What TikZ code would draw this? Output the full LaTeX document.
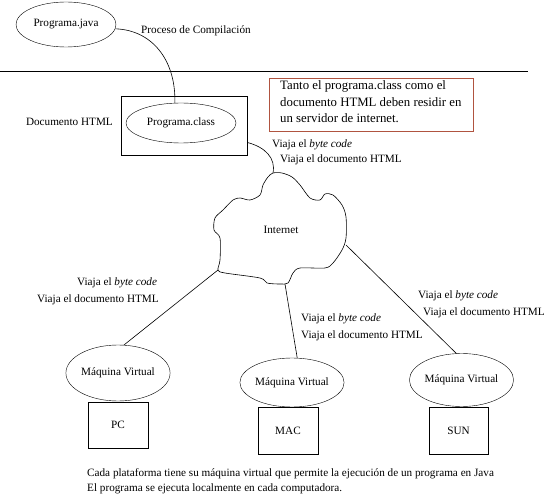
\documentclass[tikz,border=0pt]{standalone}
\usepackage{fontspec}
\setmainfont{Liberation Serif}
\usetikzlibrary{shapes.geometric}
\definecolor{boxred}{RGB}{176,84,64}
\tikzset{
  every node/.style={font=\fontsize{11.2}{13}\selectfont},
  ell/.style={draw, ellipse, inner sep=0pt},
  box/.style={draw, rectangle, inner sep=0pt},
  lbl/.style={anchor=west, inner sep=0pt},
  conn/.style={draw, line width=0.6pt}
}
\begin{document}
\begin{tikzpicture}[x=1pt,y=-1pt]
\useasboundingbox (0,0) rectangle (550,500);
% top part
\node[ell, minimum width=100, minimum height=45] (java) at (66,24.5) {Programa.java};
\node[lbl] (compil) at (141,31) {Proceso de Compilación};
\coordinate (hl) at (0,71);
\coordinate (hr) at (528,71);
\draw[line width=0.6pt] (hl) -- (hr);
\node[box, minimum width=126, minimum height=59] (classbox) at (184,125.5) {};
\node[ell, minimum width=110, minimum height=40] (class) at (181,123) {Programa.class};
\node[anchor=east, inner sep=0pt] (doc) at (113,122) {Documento HTML};
\draw[conn] (java.-5) .. controls (152,30) and (176,60) .. (class.107);
% note box
\node[box, draw=boxred, line width=0.7pt, minimum width=204, minimum height=53] (note) at (371,104.5) {};
\node[lbl, align=left, font=\fontsize{12.8}{16.5}\selectfont] (notetxt) at (280,102) {Tanto el programa.class como el\\documento HTML deben residir en\\un servidor de internet.};
\node[lbl] (t1a) at (272,145) {Viaja el \textit{byte code}};
\node[lbl] (t1b) at (280,160) {Viaja el documento HTML};
% cloud
\draw[line width=0.6pt] plot[smooth cycle, tension=0.5] coordinates {
 (273,173) (282,173) (292,177) (300,185) (310,198) (320,200) (325,194) (333,195)
 (342,205) (346,217) (346,238) (342,250) (333,263) (325,268) (300,268) (293,273)
 (288,283) (280,284) (267,283) (260,278) (225,273) (218,270) (220,260) (220,238)
 (214,230) (215,218) (223,210) (233,200) (240,198) (250,200) (260,195) (263,185)
 (268,177)};
\node (cloud) at (281,230) {Internet};
\coordinate (cTop) at (273,173);
\coordinate (cBL) at (218,270);
\coordinate (cB) at (285,284);
\coordinate (cR) at (346,245);
\draw[conn] (classbox.-15.5) .. controls (265,147) and (276,158) .. (cTop);
% machines
\node[ell, minimum width=94, minimum height=56] (pcvm) at (118,373) {Máquina Virtual};
\node[ell, minimum width=89, minimum height=49] (macvm) at (292,382.5) {Máquina Virtual};
\node[ell, minimum width=89, minimum height=53] (sunvm) at (461.5,380) {Máquina Virtual};
\node[box, minimum width=60, minimum height=46] (pc) at (118,425) {PC};
\node[box, minimum width=60, minimum height=47] (mac) at (288,430.5) {MAC};
\node[box, minimum width=59, minimum height=47] (sun) at (458.5,430.5) {SUN};
\draw[conn] (cBL) -- (pcvm.78);
\draw[conn] (cB) -- (macvm.78);
\draw[conn] (cR) -- (sunvm.101);
% labels
\node[lbl] (l1a) at (77,283) {Viaja el \textit{byte code}};
\node[lbl] (l1b) at (37,300) {Viaja el documento HTML};
\node[lbl] (l2a) at (301,319) {Viaja el \textit{byte code}};
\node[lbl] (l2b) at (301,336) {Viaja el documento HTML};
\node[lbl] (l3a) at (418,296) {Viaja el \textit{byte code}};
\node[lbl] (l3b) at (423,313) {Viaja el documento HTML};
% bottom text
\node[lbl] (b1) at (87,474) {Cada plataforma tiene su máquina virtual que permite la ejecución de un programa en Java};
\node[lbl] (b2) at (87,489) {El programa se ejecuta localmente en cada computadora.};
\end{tikzpicture}
\end{document}
